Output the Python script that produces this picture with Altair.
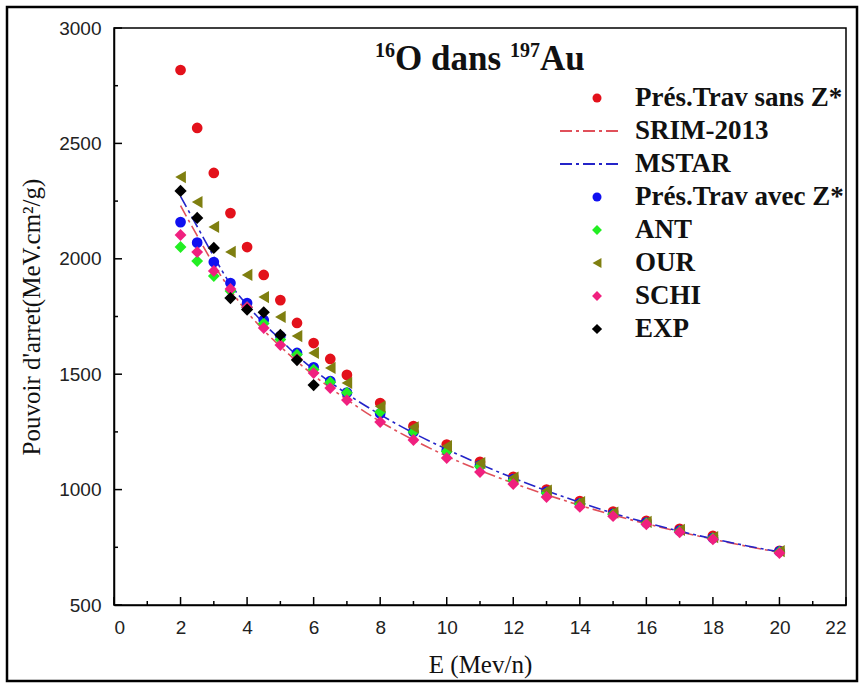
import altair as alt
import pandas as pd

# ---------------- data ----------------
E_FULL = [2, 2.5, 3, 3.5, 4, 4.5, 5, 5.5, 6, 6.5, 7, 8, 9, 10, 11, 12, 13, 14, 15, 16, 17, 18, 20]
sans_z = [2818, 2567, 2372, 2198, 2051, 1930, 1821, 1722, 1635, 1566, 1497,
          1375, 1275, 1195, 1120, 1055, 1000, 950, 905, 865, 830, 800, 735]
avec_z = [2159, 2070, 1986, 1895, 1808, 1735, 1665, 1592, 1530, 1470, 1420,
          1330, 1250, 1170, 1105, 1045, 990, 940, 895, 857, 822, 790, 732]
ant = [2051, 1990, 1925, 1860, 1790, 1720, 1650, 1585, 1520, 1465, 1420,
       1336, 1250, 1165, 1100, 1040, 985, 938, 893, 855, 820, 790, 730]
our = [2354, 2246, 2138, 2030, 1930, 1834, 1748, 1665, 1592, 1527, 1462,
       1360, 1270, 1188, 1115, 1052, 996, 946, 900, 860, 826, 794, 733]
schi = [2103, 2029, 1947, 1869, 1790, 1700, 1626, 1565, 1505, 1440, 1388,
        1293, 1215, 1137, 1076, 1024, 968, 925, 885, 850, 815, 785, 725]
E_EXP = [2, 2.5, 3, 3.5, 4, 4.5, 5, 5.5, 6]
exp = [2294, 2177, 2047, 1830, 1780, 1768, 1670, 1561, 1453]
E_LINE = [2, 2.5, 3, 3.5, 4, 4.5, 5, 5.5, 6, 7, 8, 9, 10, 11, 12, 13, 14, 15, 16, 17, 18, 19, 20]
srim = [2230, 2100, 1975, 1865, 1770, 1690, 1620, 1555, 1495, 1390, 1295, 1215,
        1145, 1083, 1028, 978, 932, 890, 852, 817, 785, 755, 728]
mstar = [2270, 2140, 2010, 1890, 1800, 1720, 1650, 1580, 1520, 1415, 1325, 1245,
         1175, 1110, 1050, 995, 945, 898, 857, 820, 787, 757, 730]

X_MAJOR = [0, 2, 4, 6, 8, 10, 12, 14, 16, 18, 20, 22]
X_MINOR = [1, 3, 5, 7, 9, 11, 13, 15, 17, 19, 21]
Y_MAJOR = [500, 1000, 1500, 2000, 2500, 3000]
Y_MINOR = [750, 1250, 1750, 2250, 2750]

LABELS = ["Prés.Trav sans Z*", "SRIM-2013", "MSTAR", "Prés.Trav avec Z*",
          "ANT", "OUR", "SCHI", "EXP"]

# ---------------- styles ----------------
W, H = 732, 577
SERIF = "Liberation Serif"
SANS = "Liberation Sans"

xs = alt.Scale(domain=[0, 22], nice=False, zero=False)
ys = alt.Scale(domain=[500, 3000], nice=False, zero=False)

xaxis = alt.Axis(values=X_MAJOR, format="d", ticks=False, grid=False,
                 labelFont=SANS, labelFontSize=19, labelColor="#222",
                 labelPadding=13, domainColor="black", domainWidth=1.5,
                 title="E (Mev/n)", titleFont=SERIF, titleFontSize=25,
                 titleFontWeight="normal", titleColor="#111", titlePadding=15)
yaxis = alt.Axis(values=Y_MAJOR, format="d", ticks=False, grid=False,
                 labelFont=SANS, labelFontSize=19, labelColor="#222",
                 labelPadding=13, domainColor="black", domainWidth=1.5,
                 title="Pouvoir d'arret(MeV.cm²/g)", titleFont=SERIF,
                 titleFontSize=25, titleFontWeight="normal", titleColor="#111",
                 titlePadding=14)

# series spec: label, xs, ys, kind, color, shape, size
point_series = {
    "Prés.Trav sans Z*": (E_FULL, sans_z, "#e3111b", "circle", 115),
    "Prés.Trav avec Z*": (E_FULL, avec_z, "#1010f0", "circle", 115),
    "ANT": (E_FULL, ant, "#22ee22", "diamond", 140),
    "OUR": (E_FULL, our, "#7f7f10", "triangle-left", 150),
    "SCHI": (E_FULL, schi, "#f0207f", "diamond", 140),
    "EXP": (E_EXP, exp, "#000000", "diamond", 150),
}
line_series = {
    "SRIM-2013": (E_LINE, srim, "#e0505a"),
    "MSTAR": (E_LINE, mstar, "#2424c8"),
}
DASH = [12, 4, 3, 4]

layers = []


def base(df):
    return alt.Chart(df)


for lab in LABELS:
    if lab in point_series:
        ex, vals, col, shp, sz = point_series[lab]
        df = pd.DataFrame({"E": ex, "S": vals})
        layers.append(
            base(df).mark_point(filled=True, opacity=1, color=col, shape=shp,
                                size=sz, strokeWidth=0).encode(
                x=alt.X("E:Q", scale=xs, axis=xaxis),
                y=alt.Y("S:Q", scale=ys, axis=yaxis))
        )
    else:
        ex, vals, col = line_series[lab]
        df = pd.DataFrame({"E": ex, "S": vals})
        layers.append(
            base(df).mark_line(color=col, strokeWidth=1.6, strokeDash=DASH,
                               interpolate="monotone").encode(
                x=alt.X("E:Q", scale=xs, axis=xaxis),
                y=alt.Y("S:Q", scale=ys, axis=yaxis))
        )

# inward ticks
tick_col = "black"
layers.append(alt.Chart(pd.DataFrame({"t": X_MAJOR})).mark_rule(color=tick_col, strokeWidth=1.5).encode(
    x=alt.X("t:Q", scale=xs), y=alt.value(H), y2=alt.value(H - 8)))
layers.append(alt.Chart(pd.DataFrame({"t": X_MINOR})).mark_rule(color=tick_col, strokeWidth=1.5).encode(
    x=alt.X("t:Q", scale=xs), y=alt.value(H), y2=alt.value(H - 4)))
layers.append(alt.Chart(pd.DataFrame({"t": Y_MAJOR})).mark_rule(color=tick_col, strokeWidth=1.5).encode(
    y=alt.Y("t:Q", scale=ys), x=alt.value(0), x2=alt.value(8)))
layers.append(alt.Chart(pd.DataFrame({"t": Y_MINOR})).mark_rule(color=tick_col, strokeWidth=1.5).encode(
    y=alt.Y("t:Q", scale=ys), x=alt.value(0), x2=alt.value(4)))

# legend (manual, Origin style)
LEG_Y0, LEG_DY = 70, 33
SYM_X, LINE_X1, LINE_X2, TXT_X = 483, 446, 508, 521
for i, lab in enumerate(LABELS):
    yy = LEG_Y0 + i * LEG_DY
    one = pd.DataFrame({"label": [lab]})
    if lab in point_series:
        _, _, col, shp, sz = point_series[lab]
        layers.append(alt.Chart(one).mark_point(filled=True, opacity=1, color=col, shape=shp,
                                                size=sz * 0.7, strokeWidth=0).encode(
            x=alt.value(SYM_X), y=alt.value(yy)))
    else:
        _, _, col = line_series[lab]
        layers.append(alt.Chart(one).mark_rule(color=col, strokeWidth=1.8, strokeDash=DASH).encode(
            x=alt.value(LINE_X1), x2=alt.value(LINE_X2), y=alt.value(yy)))
    layers.append(alt.Chart(one).mark_text(align="left", baseline="middle", font=SERIF,
                                           fontWeight="bold", fontSize=27, color="#111").encode(
        x=alt.value(TXT_X), y=alt.value(yy), text="label:N"))

# chart title with superscripts
title_parts = [("16", 20, 261, 29), ("O dans ", 35, 281, 42), ("197", 20, 396, 29), ("Au", 35, 426, 42)]
for txt, fs, tx, ty in title_parts:
    layers.append(alt.Chart(pd.DataFrame({"t": [txt]})).mark_text(
        align="left", baseline="alphabetic", font=SERIF, fontWeight="bold",
        fontSize=fs, color="#111").encode(x=alt.value(tx), y=alt.value(ty), text="t:N"))

# outer picture frame
layers.append(alt.Chart(pd.DataFrame({"f": [0]})).mark_rect(
    fillOpacity=0, stroke="black", strokeWidth=2.5).encode(
    x=alt.value(-107), x2=alt.value(743), y=alt.value(-21), y2=alt.value(653)))

chart = alt.layer(*layers).properties(
    width=W, height=H,
    autosize=alt.AutoSizeParams(type="none"),
    padding={"left": 114, "top": 28, "right": 16, "bottom": 81},
    background="white",
).configure_view(stroke="black", strokeWidth=1.5)

chart.save("out.html", embed_options={"renderer": "svg", "actions": False})
